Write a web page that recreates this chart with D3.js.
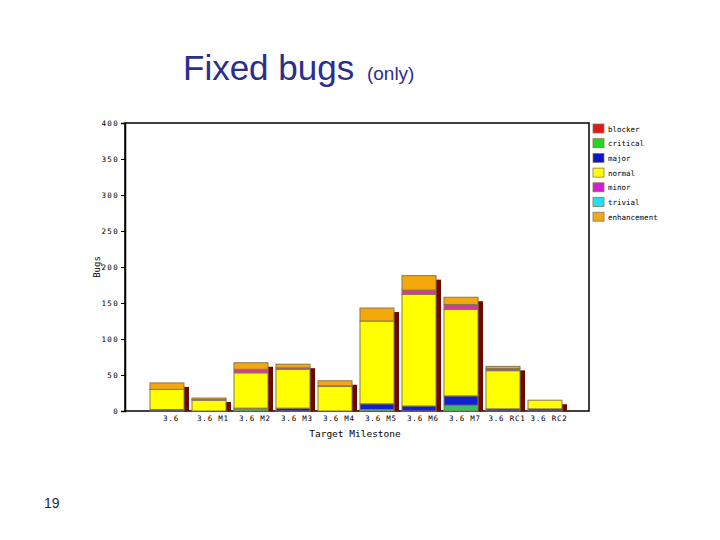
<!DOCTYPE html>
<html><head><meta charset="utf-8">
<script src="https://cdn.jsdelivr.net/npm/d3@7"></script>
<style>body{margin:0;background:#fff;}svg{display:block;}</style>
</head><body>
<svg id="c" width="720" height="540"></svg>
<script>
const categories = ["3.6","3.6 M1","3.6 M2","3.6 M3","3.6 M4","3.6 M5","3.6 M6","3.6 M7","3.6 RC1","3.6 RC2"];
const severities = ["blocker","critical","major","normal","minor","trivial","enhancement"];
const blocker     = [0,0,0,0,0,0,0,0,0,0];
const critical    = [0,0,3,0,0,2,0,8,0,0];
const major       = [2,0,1,4,0,8,7,13,3,3];
const normal      = [28,15,49,54,34,115,155,120,53,12];
const minor       = [0,1,5,2,1,0,6,7,3,0];
const trivial     = [0,0,0,0,0,0,0,0,0,0];
const enhancement = [9,2,9,5,7,18,20,10,3,0];
const yTicks = [0,50,100,150,200,250,300,350,400];
const legendColors = ["#e01a1c","#22d822","#0c14c8","#ffff00","#d020d0","#22e0f0","#f0a820"];
const barColors    = ["#e01a1c","#38c060","#1020d0","#ffff00","#d8389c","#22e0f0","#f5a80a"];

const svg = d3.select("#c");
const series = [blocker,critical,major,normal,minor,trivial,enhancement];
const rows = categories.map((c,i)=>{const r={cat:c}; severities.forEach((s,k)=>r[s]=series[k][i]); return r;});
const stack = d3.stack().keys(severities)(rows);

const y = d3.scaleLinear().domain([0,400]).range([411,123]);
const x = d3.scaleBand().domain(categories).range([146,566]).padding(0);
const bw = 34, off = 4;

// frame
svg.append("rect").attr("x",125).attr("y",123).attr("width",464).attr("height",288)
  .attr("fill","none").attr("stroke","#000").attr("stroke-width",1.5);

// shadows
const totals = rows.map(r=>severities.reduce((a,s)=>a+r[s],0));
svg.append("g").selectAll("rect").data(categories).join("rect")
  .attr("x",(d)=>x(d)+off+bw).attr("y",(d,i)=>y(totals[i])+4)
  .attr("width",5).attr("height",(d,i)=>411-(y(totals[i])+4))
  .attr("fill","#6a0a00");

// stacked bars
stack.forEach((layer,k)=>{
  svg.append("g").selectAll("rect").data(layer.filter(d=>d[1]-d[0]>0)).join("rect")
    .attr("x",d=>x(d.data.cat)+off).attr("y",d=>y(d[1]))
    .attr("width",bw).attr("height",d=>y(d[0])-y(d[1]))
    .attr("fill",barColors[k]).attr("stroke","#8a7850").attr("stroke-width",1);
});

// axes
const yAxis = svg.append("g").attr("transform","translate(125,0)")
  .call(d3.axisLeft(y).tickValues(yTicks).tickSize(4).tickPadding(2).tickFormat(d3.format("d")));
yAxis.select(".domain").attr("stroke","#000").attr("stroke-width",1.5);
yAxis.selectAll("text").attr("font-family","DejaVu Sans Mono").attr("font-size",7.5)
  .attr("letter-spacing",1.3).attr("fill","#000");
const xAxis = svg.append("g").attr("transform","translate(0,411)")
  .call(d3.axisBottom(x).tickSize(0).tickPadding(5));
xAxis.select(".domain").remove();
xAxis.selectAll("text").attr("font-family","DejaVu Sans Mono").attr("font-size",7.5)
  .attr("letter-spacing",0.8).attr("fill","#000").attr("dx",off);

svg.append("text").attr("x",355).attr("y",437).attr("text-anchor","middle")
  .attr("font-family","DejaVu Sans Mono").attr("font-size",9.5).attr("fill","#000").text("Target Milestone");
svg.append("text").attr("transform","translate(100,267) rotate(-90)").attr("text-anchor","middle")
  .attr("font-family","DejaVu Sans Mono").attr("font-size",9).attr("fill","#000").text("Bugs");

// legend
const lg = svg.append("g").selectAll("g").data(severities).join("g")
  .attr("transform",(d,i)=>`translate(593,${124+i*14.7})`);
lg.append("rect").attr("width",11).attr("height",9).attr("fill",(d,i)=>legendColors[i])
  .attr("stroke","#8a7850").attr("stroke-width",0.8);
lg.append("text").attr("x",15).attr("y",7.5).attr("font-family","DejaVu Sans Mono")
  .attr("font-size",7.5).attr("fill","#000").text(d=>d);

// title
const t = svg.append("text").attr("x",183).attr("y",80).attr("font-family","Liberation Sans, Arial")
  .attr("fill","#2b2e8c");
t.append("tspan").attr("font-size",35).text("Fixed bugs ");
t.append("tspan").attr("font-size",19).attr("dx",3).text("(only)");
svg.append("text").attr("x",44).attr("y",508).attr("font-family","Liberation Sans, Arial")
  .attr("font-size",14).attr("fill","#1f1f4f").text("19");
</script>
</body></html>
